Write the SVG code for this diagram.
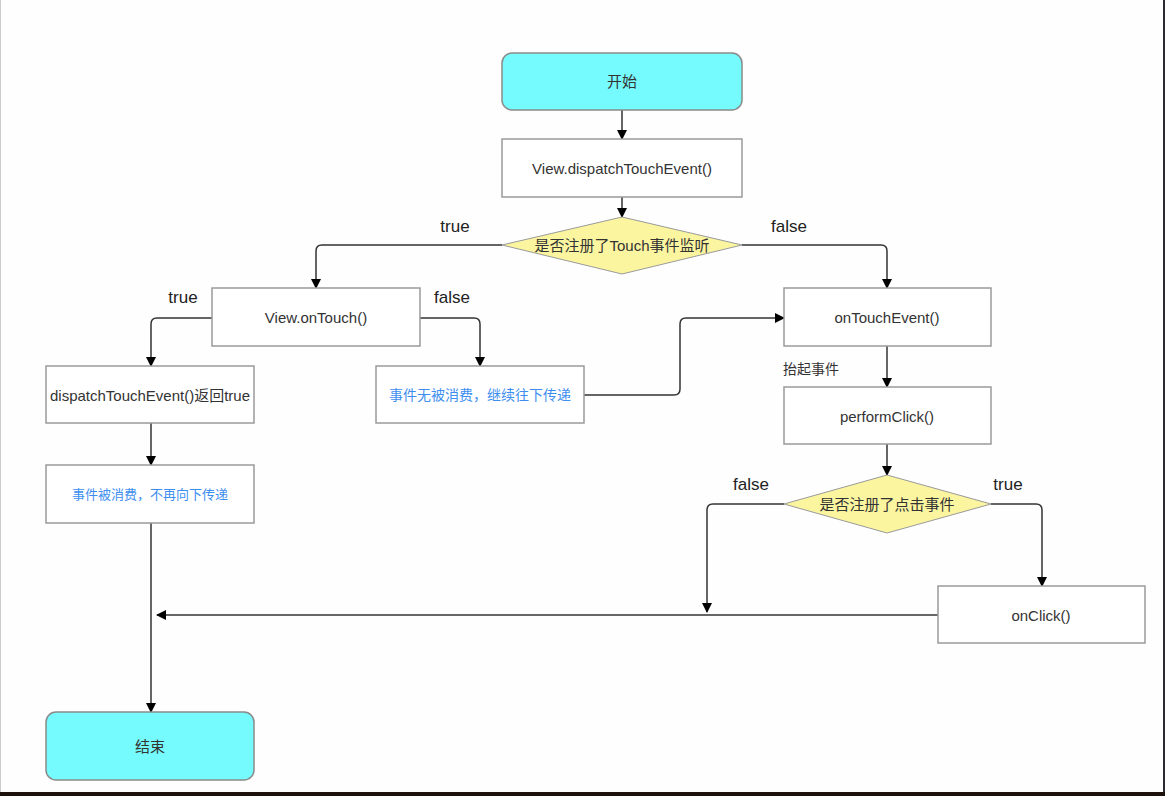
<svg xmlns="http://www.w3.org/2000/svg" width="1165" height="796" viewBox="0 0 1165 796">
<defs>
<marker id="arr" viewBox="0 0 10 10" refX="9" refY="5" markerWidth="10" markerHeight="10" markerUnits="userSpaceOnUse" orient="auto">
<path d="M0,0 L10,5 L0,10 Z" fill="#000"/>
</marker>
<style>
.box{fill:#fff;stroke:#9a9a9a;stroke-width:1.5}
.term{fill:#75fbfd;stroke:#8a8a8a;stroke-width:1.5}
.dia{fill:#fbf5a0;stroke:#9a9a9a;stroke-width:1}
.t{font-family:"Liberation Sans","Noto Sans CJK SC",sans-serif;font-size:15px;fill:#333;text-anchor:middle;dominant-baseline:central}
.tb{fill:#3d8ef0;font-size:13px}
.tb2{font-size:14px}
.ts{font-size:14px;text-anchor:start}
.lbl{font-family:"Liberation Sans","Noto Sans CJK SC",sans-serif;font-size:17px;fill:#222;text-anchor:middle;dominant-baseline:central}
.e{fill:none;stroke:#333;stroke-width:1.5;marker-end:url(#arr)}
</style>
</defs>
<rect x="0" y="0" width="1165" height="796" fill="#fefefe"/>
<rect x="0" y="0" width="1" height="792" fill="#cccccc"/>
<rect x="1163" y="0" width="2" height="796" fill="#2a2a30"/>
<rect x="0" y="792" width="1165" height="4" fill="#1e120c"/>

<g id="connectors">
<path class="e" d="M622,110 L622,139"/>
<path class="e" d="M622,197 L622,217"/>
<path class="e" d="M502,245 L322,245 Q316,245 316,251 L316,288"/>
<path class="e" d="M742,245 L881,245 Q887,245 887,251 L887,288"/>
<path class="e" d="M212,318 L157,318 Q151,318 151,324 L151,366"/>
<path class="e" d="M420,318 L474,318 Q480,318 480,324 L480,366"/>
<path class="e" d="M584,395 L674,395 Q680,395 680,389 L680,324 Q680,318 686,318 L784,318"/>
<path class="e" d="M151,423 L151,465"/>
<path class="e" d="M151,523 L151,712"/>
<path class="e" d="M887,346 L887,387"/>
<path class="e" d="M887,444 L887,475"/>
<path class="e" d="M784,504 L713,504 Q707,504 707,510 L707,612"/>
<path class="e" d="M991,504 L1036,504 Q1042,504 1042,510 L1042,586"/>
<path class="e" d="M938,615 L157,615"/>
<text class="lbl" x="455" y="226">true</text>
<text class="lbl" x="789" y="226">false</text>
<text class="lbl" x="183" y="297">true</text>
<text class="lbl" x="452" y="297">false</text>
<text class="t ts" x="783" y="369">抬起事件</text>
<text class="lbl" x="751" y="484">false</text>
<text class="lbl" x="1008" y="484">true</text>
</g>

<g id="start"><rect class="term" x="502" y="53" width="240" height="57" rx="10"/><text class="t" x="622" y="81">开始</text></g>
<g id="dispatch"><rect class="box" x="502" y="139" width="240" height="58"/><text class="t" x="622" y="168">View.dispatchTouchEvent()</text></g>
<g id="decision1"><polygon class="dia" points="622,217 742,245 622,274 502,245"/><text class="t" x="622" y="245">是否注册了Touch事件监听</text></g>
<g id="onTouch"><rect class="box" x="212" y="288" width="208" height="58"/><text class="t" x="316" y="317">View.onTouch()</text></g>
<g id="onTouchEvent"><rect class="box" x="784" y="288" width="207" height="58"/><text class="t" x="887" y="317">onTouchEvent()</text></g>
<g id="returnTrue"><rect class="box" x="46" y="366" width="208" height="57"/><text class="t" x="150" y="395">dispatchTouchEvent()返回true</text></g>
<g id="notConsumed"><rect class="box" x="376" y="366" width="208" height="57"/><text class="t tb tb2" x="480" y="395">事件无被消费，继续往下传递</text></g>
<g id="consumed"><rect class="box" x="46" y="465" width="208" height="58"/><text class="t tb" x="150" y="494">事件被消费，不再向下传递</text></g>
<g id="performClick"><rect class="box" x="784" y="387" width="207" height="57"/><text class="t" x="887" y="416">performClick()</text></g>
<g id="decision2"><polygon class="dia" points="887,475 991,504 887,533 784,504"/><text class="t" x="887" y="504">是否注册了点击事件</text></g>
<g id="onClick"><rect class="box" x="938" y="586" width="207" height="57"/><text class="t" x="1041" y="615">onClick()</text></g>
<g id="end"><rect class="term" x="46" y="712" width="208" height="68" rx="10"/><text class="t" x="150" y="746">结束</text></g>
</svg>
